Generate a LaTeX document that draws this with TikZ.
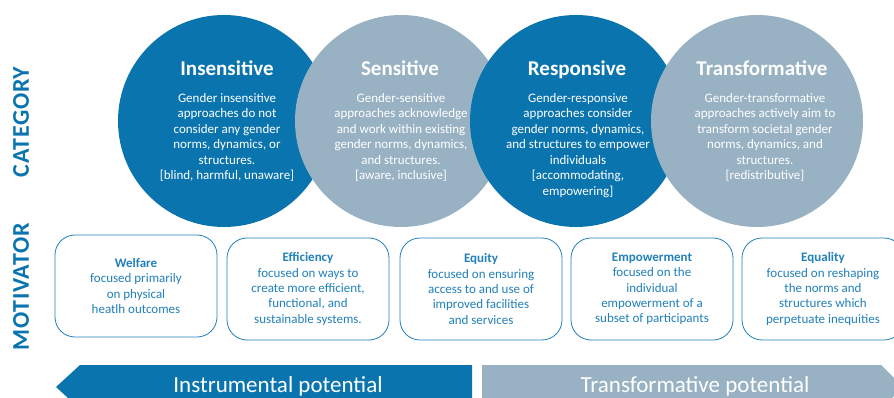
\documentclass[tikz,border=0pt]{standalone}
\usepackage{fontspec}
\setmainfont{Carlito}
\newfontfamily\sidefont{Carlito}[LetterSpace=3]
\usetikzlibrary{positioning, calc}
\definecolor{catblue}{HTML}{0A74AF}
\definecolor{catgray}{HTML}{98B2C4}
\definecolor{txtblue}{HTML}{2280BB}

\begin{document}
\begin{tikzpicture}[
  x=1pt, y=-1pt,
  catcircle/.style={circle, minimum size=212pt, inner sep=0pt},
  cattitle/.style={font=\fontsize{21}{24}\selectfont\bfseries, text=white, anchor=base, inner sep=0pt},
  catbody/.style={font=\fontsize{13}{15.5}\selectfont, text=white, align=center, anchor=north, inner sep=0pt},
  motbox/.style={draw=txtblue, line width=0.8pt, rounded corners=20pt,
    minimum width=162pt, minimum height=102pt, align=center, text=txtblue,
    font=\fontsize{13}{15.4}\selectfont},
  sidelabel/.style={rotate=90, font=\sidefont\fontsize{24}{26}\selectfont\bfseries, text=catblue, inner sep=0pt},
  bandtext/.style={font=\fontsize{23}{24}\selectfont, text=white, anchor=base, inner sep=0pt},
]

% Dimensions
\pgfmathsetmacro{\cy}{121}      % circle centre y
\pgfmathsetmacro{\titley}{76}   % baseline of circle titles
\pgfmathsetmacro{\texty}{93}    % top of circle body text
\pgfmathsetmacro{\bandtop}{365} % top of the potential bands
\pgfmathsetmacro{\bandbot}{409} % bottom of the potential bands

% Canvas
\useasboundingbox (0,0) rectangle (894,398);
\clip (0,0) rectangle (894,398);
\fill[white] (0,0) rectangle (894,398);

% Side labels
\node[sidelabel] (category) at (21,122) {CATEGORY};
\node[sidelabel] (motivator) at (21,287) {MOTIVATOR};

% --- Insensitive ---
\node[catcircle, fill=catblue] (insens) at (224,\cy) {};
\node[cattitle] (insens-title) at (227,\titley) {Insensitive};
\node[catbody] (insens-text) at (227,\texty)
  {Gender insensitive\\approaches do not\\consider any gender\\norms, dynamics, or\\structures.\\{[blind, harmful, unaware]}};

% --- Sensitive ---
\node[catcircle, fill=catgray] (sens) at (401,\cy) {};
\node[cattitle] (sens-title) at (400,\titley) {Sensitive};
\node[catbody] (sens-text) at (401,\texty)
  {Gender-sensitive\\approaches acknowledge\\and work within existing\\gender norms, dynamics,\\and structures.\\{[aware, inclusive]}};

% --- Responsive ---
\node[catcircle, fill=catblue] (resp) at (576,\cy) {};
\node[cattitle] (resp-title) at (577,\titley) {Responsive};
\node[catbody] (resp-text) at (578,\texty)
  {Gender-responsive\\approaches consider\\gender norms, dynamics,\\and structures to empower\\individuals\\{[accommodating,}\\empowering]};

% --- Transformative ---
\node[catcircle, fill=catgray] (transf) at (757,\cy) {};
\node[cattitle] (transf-title) at (762,\titley) {Transformative};
\node[catbody] (transf-text) at (765,\texty)
  {Gender-transformative\\approaches actively aim to\\transform societal gender\\norms, dynamics, and\\structures.\\{[redistributive]}};

% --- Motivator boxes ---
\node[motbox] (welfare) at (136,286)
  {\textbf{Welfare}\\focused primarily\\on physical\\heatlh outcomes};
\node[motbox] (efficiency) at (308,289)
  {\textbf{Efficiency}\\focused on ways to\\create more efficient,\\functional, and\\sustainable systems.};
\node[motbox] (equity) at (481,289)
  {\textbf{Equity}\\focused on ensuring\\access to and use of\\improved facilities\\and services};
\node[motbox] (empower) at (652,289)
  {\textbf{Empowerment}\\focused on the\\individual\\empowerment of a\\subset of participants};
\node[motbox] (equality) at (823,289)
  {\textbf{Equality}\\focused on reshaping\\the norms and\\structures which\\perpetuate inequities};

% --- Potential bands ---
\fill[catblue] (56,387) -- (80,\bandtop) -- (472,\bandtop) -- (472,\bandbot)
  -- (80,\bandbot) -- cycle;
\fill[catgray] (482,\bandtop) -- (881,\bandtop) -- (903,387) -- (881,\bandbot)
  -- (482,\bandbot) -- cycle;
\node[bandtext] (instr) at (278,392) {Instrumental potential};
\node[bandtext] (transpot) at (695,392) {Transformative potential};

\end{tikzpicture}
\end{document}
